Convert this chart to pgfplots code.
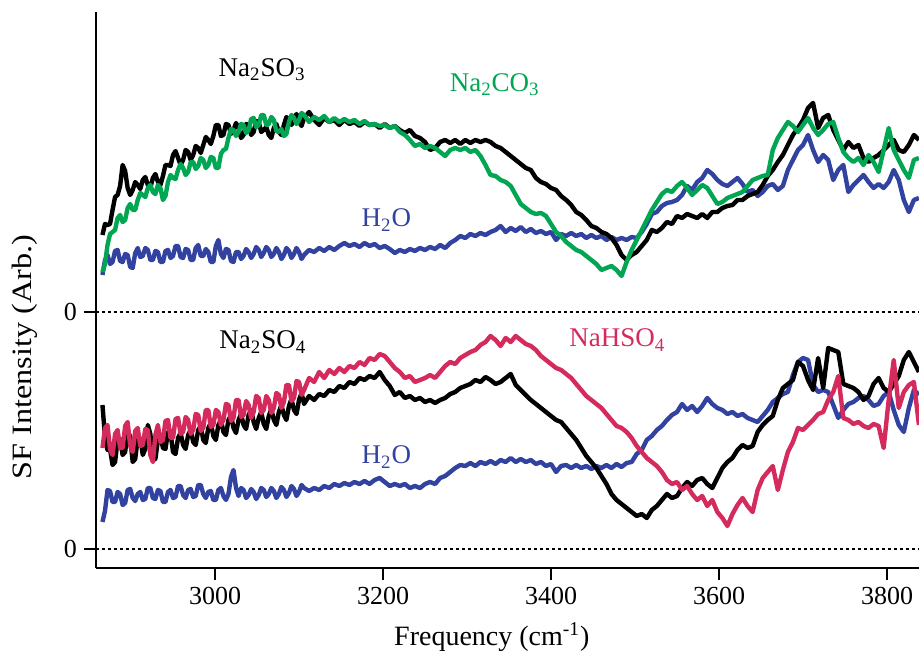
\documentclass[border=0pt]{standalone}
\usepackage{pgfplots}
\pgfplotsset{compat=1.18}
\usepackage{pgfplotstable}
\usepackage{graphicx}
\usepackage{fontspec}
\setmainfont{Liberation Serif}
\definecolor{cblue}{HTML}{3242A0}
\definecolor{cgreen}{HTML}{00A651}
\definecolor{cred}{HTML}{D42A5C}
\pgfplotstableread{
x ub ug uw lb lr lw
2866 314 277 274 144 101 27
2869 325 285 289 112 121 38
2872 324 304 294 99 124 59
2875 325 315 285 100 100 58
2878 339 317 287 84 94 47
2881 352 319 298 87 115 47
2884 354 331 299 109 119 57
2887 363 334 288 110 101 55
2890 384 327 287 94 101 44
2893 378 329 295 97 123 46
2896 361 341 294 119 127 59
2899 354 345 282 112 103 60
2902 359 339 281 87 97 51
2905 367 339 296 90 118 48
2908 364 349 301 111 121 55
2911 360 356 292 111 103 57
2914 369 354 293 94 104 49
2917 372 352 301 100 120 50
2920 364 361 299 124 119 61
2923 361 364 289 115 94 61
2926 371 357 289 89 87 51
2929 375 355 298 90 114 50
2932 367 364 297 109 124 59
2935 364 361 287 114 107 58
2938 373 349 287 101 109 47
2941 384 353 298 100 128 47
2944 384 367 299 117 129 57
2947 383 374 291 116 111 59
2950 394 371 293 97 111 51
2953 398 370 303 95 130 52
2956 391 379 303 111 131 63
2959 384 385 292 116 115 63
2962 389 381 291 104 117 54
2965 399 374 300 100 132 51
2968 397 377 299 114 129 59
2971 389 387 289 119 115 60
2974 394 387 289 107 119 52
2977 403 380 301 104 135 53
2980 401 383 304 119 134 64
2983 396 391 293 123 118 64
2986 404 389 293 109 121 55
2989 412 381 300 106 139 51
2992 409 384 297 121 139 57
2995 405 392 287 126 122 58
2998 413 391 287 113 124 49
3001 424 381 303 109 139 49
3004 424 381 309 124 137 59
3007 413 395 295 129 124 61
3010 414 399 291 117 129 53
3013 425 400 300 114 145 49
3016 424 411 299 129 144 55
3019 415 420 288 134 128 72
3022 419 419 287 121 131 79
3025 426 413 297 116 149 61
3028 421 417 297 129 149 53
3031 411 425 290 135 132 61
3034 414 424 293 124 134 59
3037 425 416 300 120 148 51
3040 424 419 297 134 144 54
3043 414 430 291 139 131 60
3046 417 431 295 127 137 57
3049 428 422 302 120 153 50
3052 427 424 299 131 151 54
3055 417 434 292 137 136 61
3058 419 434 296 125 139 59
3061 422 424 302 120 153 52
3064 414 425 299 133 149 55
3067 411 432 292 140 136 61
3070 421 429 295 129 141 58
3073 425 418 301 124 156 51
3076 417 417 297 137 154 55
3079 414 420 290 144 141 62
3082 424 413 294 134 147 59
3085 432 415 301 129 164 52
3088 429 427 298 143 164 56
3091 424 434 291 150 148 63
3094 431 431 295 139 151 60
3097 435 425 301 135 168 53
3100 427 429 297 149 167 57
3103 423 436 290 156 154 64
3106 431 434 294 145 159 61
3112 437 427 299 153 171 58
3118 429 432 297 149 167 61
3124 424 429 301 155 177 59
3130 431 433 298 153 171 63
3136 427 427 302 159 179 61
3142 429 431 299 157 175 65
3148 424 427 303 163 181 63
3154 429 430 306 161 177 66
3160 425 427 303 167 183 64
3166 427 429 305 165 181 67
3172 423 425 302 171 187 65
3178 427 428 306 169 184 68
3184 424 424 303 173 191 65
3190 425 425 305 171 189 69
3196 421 423 301 177 195 71
3202 425 424 303 169 193 67
3208 421 421 300 163 187 63
3214 423 423 296 154 181 65
3220 419 417 299 157 177 63
3226 416 414 297 151 171 65
3232 419 409 300 153 173 61
3238 413 403 298 149 167 63
3244 411 405 301 151 169 61
3250 407 401 299 147 171 65
3256 399 403 302 149 174 67
3262 401 401 300 146 171 65
3268 407 397 304 149 177 71
3274 409 393 301 151 183 73
3280 406 399 306 155 187 77
3286 409 401 309 157 185 81
3292 405 399 313 161 191 84
3298 409 401 311 163 194 83
3304 406 397 315 165 197 86
3310 409 399 313 169 199 83
3316 407 393 316 167 204 87
3322 409 384 314 172 207 85
3328 407 374 317 169 213 88
3334 403 373 319 165 209 85
3340 401 369 323 167 203 89
3346 397 367 317 171 211 87
3352 393 363 321 175 207 91
3358 389 354 318 164 213 87
3364 385 345 322 159 209 90
3370 381 341 317 154 205 87
3376 379 337 320 149 203 89
3382 371 335 316 145 199 85
3388 367 336 318 141 193 87
3394 365 333 315 137 189 83
3400 361 325 317 133 185 85
3406 359 317 309 129 181 77
3412 353 313 315 127 179 83
3418 349 307 313 121 175 84
3424 344 303 316 115 171 81
3430 337 299 313 109 165 84
3436 334 297 315 101 159 81
3442 329 293 311 93 153 83
3448 323 289 314 87 149 80
3454 321 285 311 81 145 83
3460 317 279 313 73 141 81
3466 315 281 309 65 135 84
3472 311 283 312 55 129 81
3478 304 279 309 49 123 85
3484 294 273 311 45 121 82
3490 289 287 309 41 117 86
3496 294 299 312 37 111 87
3502 297 309 311 33 103 95
3508 303 319 317 35 97 99
3514 309 329 325 31 91 109
3520 319 339 335 39 87 113
3526 317 347 337 43 83 119
3532 321 355 343 49 77 123
3538 327 359 346 55 69 129
3544 325 357 347 51 65 134
3550 333 363 349 53 67 137
3556 331 367 354 61 59 145
3562 335 361 363 67 63 139
3568 333 354 359 63 55 143
3574 331 359 367 69 49 137
3580 335 364 371 71 53 143
3586 331 361 379 65 43 151
3592 337 353 375 61 49 145
3598 337 345 369 71 37 141
3604 341 347 365 81 31 139
3610 343 351 363 87 23 135
3616 344 353 367 91 35 137
3622 349 355 371 99 44 133
3628 349 357 365 104 51 135
3634 353 363 357 101 43 131
3640 355 369 359 103 37 129
3646 357 371 353 117 59 127
3652 364 373 357 124 71 133
3658 373 374 363 129 77 139
3664 379 399 365 133 83 147
3670 387 411 359 149 59 151
3676 394 419 363 161 79 155
3682 404 427 379 165 97 157
3688 414 423 389 169 107 174
3694 421 417 399 187 121 187
3700 429 424 404 183 119 191
3706 441 431 414 169 124 189
3712 446 421 399 159 129 164
3718 421 414 387 191 135 157
3724 431 419 394 161 137 159
3730 434 425 389 201 149 157
3736 419 427 369 199 157 144
3742 409 411 379 197 173 131
3748 399 397 384 165 131 139
3754 407 391 357 163 129 145
3760 401 387 364 161 125 147
3766 404 391 369 157 127 151
3772 391 384 374 149 123 153
3778 387 394 367 153 121 149
3784 391 387 361 165 125 143
3790 394 377 365 171 123 145
3796 399 399 361 161 101 153
3802 404 421 367 157 149 157
3808 409 399 379 165 189 139
3814 399 389 369 173 141 124
3820 397 379 349 189 157 117
3826 404 371 337 197 164 141
3832 414 389 349 187 167 159
3838 409 391 351 177 124 154
}\data

\begin{document}
\begin{tikzpicture}
\begin{axis}[
  name=ax,
  scale only axis,
  width=411.5pt, height=278pt,
  xmin=2858.3, xmax=3838.1,
  ymin=-19, ymax=537,
  axis lines=left,
  axis line style={-, line width=1.4pt, black},
  tick align=outside,
  major tick length=6pt,
  tick style={line width=1.4pt, black},
  xtick={3000,3200,3400,3600,3800},
  ytick={0,237},
  yticklabels={0,0},
  /pgf/number format/assume math mode=true,
  /pgf/number format/1000 sep={},
  tick label style={font=\fontsize{13}{15}\selectfont},
  every axis x label/.style={at={(axis description cs:0.481,-0.124)}, anchor=center, font=\fontsize{14}{16}\selectfont},
  every axis y label/.style={at={(axis description cs:-0.0863,0.3795)}, rotate=90, anchor=center, font=\fontsize{14}{16}\selectfont},
  xlabel={Frequency (cm\textsuperscript{-1})},
  ylabel={\scalebox{1.15}[1]{SF Intensity (Arb.)}},
  every axis plot/.append style={line width=2.2pt, line join=round},
]
\addplot[black, line width=1.4pt, dash pattern=on 1.4pt off 1.6pt] coordinates {(2858.3,237) (3838.1,237)};
\addplot[black, line width=1.4pt, dash pattern=on 1.4pt off 1.6pt] coordinates {(2858.3,0) (3838.1,0)};
\addplot[cblue] table[x=x, y=uw] {\data};
\addplot[black] table[x=x, y=ub] {\data};
\addplot[cgreen] table[x=x, y=ug] {\data};
\addplot[cblue] table[x=x, y=lw] {\data};
\addplot[black] table[x=x, y=lb] {\data};
\addplot[cred] table[x=x, y=lr] {\data};
\node[black, font=\fontsize{13.5}{15}\selectfont] at (axis cs:3056,479) {Na\textsubscript{2}SO\textsubscript{3}};
\node[cgreen, font=\fontsize{13.5}{15}\selectfont] at (axis cs:3333,464) {Na\textsubscript{2}CO\textsubscript{3}};
\node[cblue, font=\fontsize{13.5}{15}\selectfont] at (axis cs:3204,329) {H\textsubscript{2}O};
\node[black, font=\fontsize{13.5}{15}\selectfont] at (axis cs:3057,207) {Na\textsubscript{2}SO\textsubscript{4}};
\node[cred, font=\fontsize{13.5}{15}\selectfont] at (axis cs:3479,209) {NaHSO\textsubscript{4}};
\node[cblue, font=\fontsize{13.5}{15}\selectfont] at (axis cs:3204,92) {H\textsubscript{2}O};
\end{axis}
\pgfresetboundingbox
\path[use as bounding box] ([shift={(-48pt,-44pt)}]ax.south west) rectangle ([shift={(0pt,6pt)}]ax.north east);
\end{tikzpicture}
\end{document}
